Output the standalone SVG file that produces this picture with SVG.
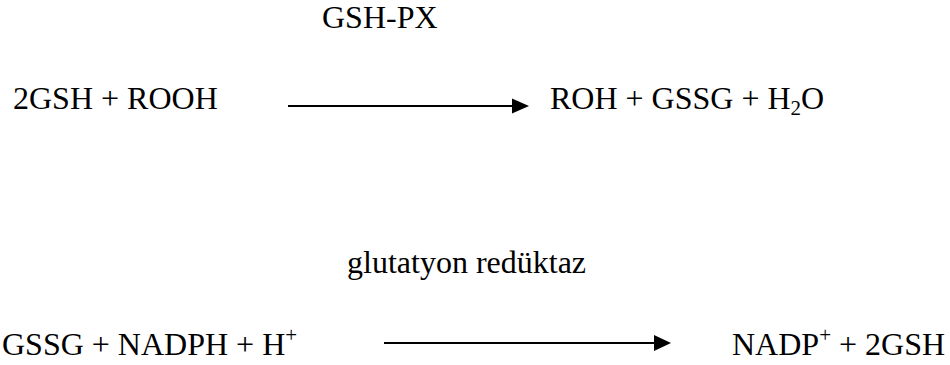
<svg xmlns="http://www.w3.org/2000/svg" width="950" height="365" viewBox="0 0 950 365">
<style>
text{font-family:"Liberation Serif","Times New Roman",serif;font-size:32px;fill:#000}
.sub{font-size:21px}
.conn line{stroke:#000;stroke-width:2}
</style>
<defs>
<marker id="ah" viewBox="0 0 10 10" refX="10" refY="5" markerWidth="8" markerHeight="8" markerUnits="userSpaceOnUse" orient="auto">
<path d="M0,0 L10,5 L0,10 z" fill="#000"/>
</marker>
</defs>
<rect width="950" height="365" fill="#fff"/>
<g id="enzyme1"><text x="322" y="28">GSH-PX</text></g>
<g id="reactants1"><text x="13" y="109">2GSH + ROOH</text></g>
<g id="products1"><text x="550" y="109">ROH + GSSG + H<tspan class="sub" dy="6">2</tspan><tspan dy="-6">O</tspan></text></g>
<g id="enzyme2"><text x="347" y="273">glutatyon redüktaz</text></g>
<g id="reactants2"><text x="2" y="355">GSSG + NADPH + H<tspan class="sub" dy="-13">+</tspan></text></g>
<g id="products2"><text x="732" y="355">NADP<tspan class="sub" dy="-13">+</tspan><tspan dy="13"> + 2GSH</tspan></text></g>
<g class="conn" id="connectors">
<line x1="288" y1="106" x2="514" y2="106"/>
<path d="M512,98.5 L529,106 L512,113.5 z" fill="#000"/>
<line x1="384" y1="343" x2="656" y2="343"/>
<path d="M654,335 L671,343 L654,351 z" fill="#000"/>
</g>
</svg>
